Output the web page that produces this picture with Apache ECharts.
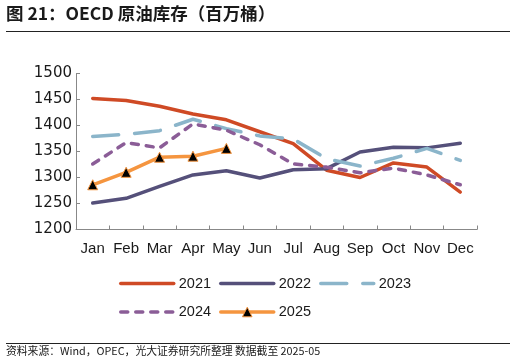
<!DOCTYPE html>
<html>
<head>
<meta charset="utf-8">
<script src="https://cdn.jsdelivr.net/npm/echarts@6/dist/echarts.min.js"></script>
<style>html,body{margin:0;padding:0;background:#fff;}#c{width:516px;height:364px;}</style>
</head>
<body>
<div id="c"></div>
<script>
var months = ['Jan','Feb','Mar','Apr','May','Jun','Jul','Aug','Sep','Oct','Nov','Dec'];
var yTicks = [1200, 1250, 1300, 1350, 1400, 1450, 1500];
var s2021 = [1452, 1448, 1437, 1422, 1411, 1388, 1365, 1314, 1300, 1328, 1320, 1272];
var s2022 = [1251, 1260, 1283, 1305, 1313, 1299, 1315, 1317, 1349, 1358, 1357, 1366];
var s2023 = [1379, 1383, 1390, 1412, 1394, 1380, 1374, 1336, 1322, 1337, 1356, 1333];
var s2024 = [1326, 1367, 1357, 1403, 1391, 1363, 1326, 1320, 1309, 1318, 1305, 1286];
var s2025 = [1286, 1310, 1339, 1341, 1356];
var seriesNames = ['2021', '2022', '2023', '2024', '2025'];

var chart = echarts.init(document.getElementById('c'), null, {renderer: 'canvas'});
var txt = '#1a1a1a';
var font = '"Liberation Sans", Arial, sans-serif';
var hidden = {color: 'rgba(0,0,0,0)', borderWidth: 0, opacity: 0};
function line(name, data, color, type, extra) {
  var s = {
    name: name, type: 'line', data: data, symbol: 'none', showSymbol: false,
    lineStyle: {color: color, width: 3.5, type: type, cap: 'round', join: 'round'},
    itemStyle: {color: color}, emphasis: {disabled: true}, animation: false
  };
  if (extra) { for (var k in extra) s[k] = extra[k]; }
  return s;
}
function legend(names, top) {
  return {
    data: names.map(function (n) {
      return n === '2025'
        ? {name: n, itemStyle: {color: '#000', borderColor: '#F5953F', borderWidth: 1}}
        : {name: n, itemStyle: hidden};
    }),
    left: 119, top: top, padding: 0, itemWidth: 53, itemHeight: 12, itemGap: 8,
    lineStyle: {width: 3.5, cap: 'round'},
    textStyle: {fontSize: 14.5, color: txt, fontFamily: font}
  };
}
chart.setOption({
  animation: false,
  backgroundColor: '#fff',
  grid: {left: 76, right: 39, top: 73.5, bottom: 134.5},
  legend: [legend(['2021', '2022', '2023'], 276), legend(['2024', '2025'], 304.5)],
  xAxis: {
    type: 'category', data: months, boundaryGap: true,
    axisLine: {lineStyle: {color: '#888', width: 1}},
    axisTick: {show: true, inside: true, length: 4, interval: 0, lineStyle: {color: '#888'}},
    axisLabel: {fontSize: 15, color: txt, fontFamily: font, margin: 12, interval: 0}
  },
  yAxis: {
    type: 'value', min: yTicks[0], max: yTicks[yTicks.length - 1], interval: 50,
    axisLine: {show: true, lineStyle: {color: '#888', width: 1}},
    axisTick: {show: true, inside: true, length: 4, lineStyle: {color: '#888'}},
    axisLabel: {fontSize: 15, color: txt, fontFamily: '"DejaVu Sans", sans-serif', margin: 4,
      formatter: function (v) { return String(v); }},
    splitLine: {show: false}
  },
  series: [
    line(seriesNames[0], s2021, '#CF4A25', 'solid'),
    line(seriesNames[1], s2022, '#55507A', 'solid'),
    line(seriesNames[2], s2023, '#8BB5CA', [26, 16]),
    line(seriesNames[3], s2024, '#8B5D97', [7, 8]),
    line(seriesNames[4], s2025, '#F5953F', 'solid', {
      symbol: 'triangle', symbolSize: 10, showSymbol: true,
      itemStyle: {color: '#000', borderColor: '#F5953F', borderWidth: 1}
    })
  ],
  graphic: [
    {type: 'text', left: 6, top: 5, style: {text: '图 21：OECD 原油库存（百万桶）', fontSize: 17.5, fontWeight: 'bold', fill: '#1a1a1a', fontFamily: '"Noto Sans CJK SC", sans-serif'}},
    {type: 'line', shape: {x1: 6, y1: 31.5, x2: 510, y2: 31.5}, style: {stroke: '#222', lineWidth: 1}},
    {type: 'line', shape: {x1: 6, y1: 343.5, x2: 510, y2: 343.5}, style: {stroke: '#222', lineWidth: 1}},
    {type: 'text', left: 6, top: 346, style: {text: '资料来源：Wind，OPEC，光大证券研究所整理 数据截至 2025-05', fontSize: 10.8, fill: '#1a1a1a', fontFamily: '"Noto Sans CJK SC", sans-serif'}}
  ]
});
</script>
</body>
</html>
